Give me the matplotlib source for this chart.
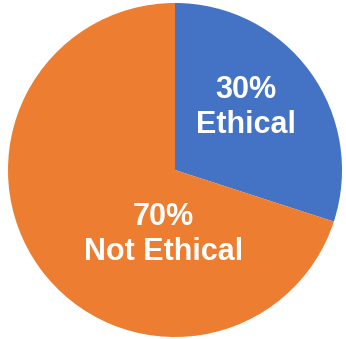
import matplotlib.pyplot as plt

labels = ['Ethical', 'Not Ethical']
values = [30, 70]
colors = ['#4472C4', '#ED7D31']
label_pos = [(0.425, 0.375), (-0.07, -0.385)]

fig = plt.figure(figsize=(3.46, 3.39), dpi=100)
ax = fig.add_axes([8 / 346, 2 / 339, 334 / 346, 334 / 339])

ax.pie(values, colors=colors, startangle=90, counterclock=False,
       radius=1, center=(0, 0), frame=False)

for lab, v, (x, y) in zip(labels, values, label_pos):
    ax.text(x, y, f'{v}%\n{lab}', ha='center', va='center', color='white',
            fontsize=22, fontweight='bold', family='Liberation Sans',
            linespacing=1.2)

ax.set_xlim(-1, 1)
ax.set_ylim(-1, 1)
ax.set_aspect('auto')
ax.axis('off')

fig.savefig('out.png', dpi=100)
